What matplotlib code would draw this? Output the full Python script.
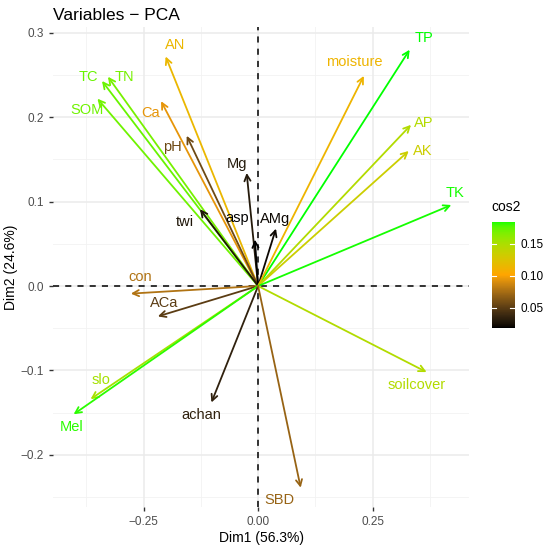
import numpy as np
import matplotlib
matplotlib.use("Agg")
import matplotlib.pyplot as plt
from matplotlib.colors import ListedColormap, Normalize, to_rgb
from matplotlib.ticker import FixedLocator, FuncFormatter

plt.rcParams['font.family'] = ['Liberation Sans', 'DejaVu Sans']

# variable coordinates on Dim1 / Dim2 and their cos2
variables = ['AN', 'TC', 'TN', 'SOM', 'Ca', 'pH', 'Mg', 'twi', 'asp', 'AMg',
             'TP', 'moisture', 'AP', 'AK', 'TK', 'con', 'ACa', 'slo', 'Mel',
             'achan', 'soilcover', 'SBD']
dim1 = [-0.202, -0.341, -0.328, -0.351, -0.212, -0.156, -0.025, -0.127, -0.007, 0.039,
        0.331, 0.231, 0.334, 0.329, 0.422, -0.278, -0.219, -0.366, -0.403,
        -0.102, 0.368, 0.093]
dim2 = [0.272, 0.243, 0.248, 0.222, 0.219, 0.178, 0.134, 0.091, 0.055, 0.068,
        0.280, 0.249, 0.191, 0.160, 0.096, -0.009, -0.036, -0.134, -0.152,
        -0.138, -0.102, -0.239]
cos2 = [0.115, 0.172, 0.168, 0.170, 0.094, 0.057, 0.030, 0.028, 0.019, 0.022,
        0.184, 0.113, 0.146, 0.134, 0.183, 0.078, 0.050, 0.152, 0.182,
        0.035, 0.146, 0.070]

# label offsets from the arrow tip, in pixels (right, up)
label_offsets = {
    'AN': (10, 11), 'TC': (-14, 4), 'TN': (16, 0), 'SOM': (-10, -11),
    'Ca': (-10, -12), 'pH': (-14, -11), 'Mg': (-10, 9), 'twi': (-15, -13),
    'asp': (-18, 22), 'AMg': (-1, 10), 'TP': (14, 12), 'moisture': (-10, 14),
    'AP': (13, 2), 'AK': (14, 0), 'TK': (4, 12), 'con': (9, 17),
    'ACa': (6, 13), 'slo': (10, 19), 'Mel': (-2, -13), 'achan': (-10, -13),
    'soilcover': (-10, -13), 'SBD': (-21, -12),
}


# gradient interpolated in Lab space, like ggplot's scale_colour_gradientn
def srgb_to_lab(rgb):
    c = np.array(rgb, dtype=float)
    lin = np.where(c <= 0.04045, c / 12.92, ((c + 0.055) / 1.055) ** 2.4)
    m = np.array([[0.4124, 0.3576, 0.1805],
                  [0.2126, 0.7152, 0.0722],
                  [0.0193, 0.1192, 0.9505]])
    xyz = m @ lin / np.array([0.95047, 1.0, 1.08883])
    f = np.where(xyz > 0.008856, np.cbrt(xyz), 7.787 * xyz + 16 / 116)
    return np.array([116 * f[1] - 16, 500 * (f[0] - f[1]), 200 * (f[1] - f[2])])


def lab_to_srgb(lab):
    fy = (lab[0] + 16) / 116
    fx = fy + lab[1] / 500
    fz = fy - lab[2] / 200
    f = np.array([fx, fy, fz])
    xyz = np.where(f > 0.2069, f ** 3, (f - 16 / 116) / 7.787) * np.array([0.95047, 1.0, 1.08883])
    m = np.array([[3.2406, -1.5372, -0.4986],
                  [-0.9689, 1.8758, 0.0415],
                  [0.0557, -0.2040, 1.0570]])
    lin = m @ xyz
    c = np.where(lin <= 0.0031308, 12.92 * lin, 1.055 * np.abs(lin) ** (1 / 2.4) - 0.055)
    return np.clip(c, 0, 1)


stops = [srgb_to_lab(to_rgb(c)) for c in ['black', '#FFA500', '#00FF00']]
grad = []
for t in np.linspace(0, 1, 256):
    if t <= 0.5:
        lab = stops[0] + (stops[1] - stops[0]) * (t / 0.5)
    else:
        lab = stops[1] + (stops[2] - stops[1]) * ((t - 0.5) / 0.5)
    grad.append(lab_to_srgb(lab))
cmap = ListedColormap(grad)
norm = Normalize(vmin=min(cos2), vmax=max(cos2))

fig = plt.figure(figsize=(5.5, 5.5), dpi=100)
ax = fig.add_axes([0.0964, 0.078, 0.853 - 0.0964, 0.951 - 0.078])

ax.set_xlim(-0.448, 0.461)
ax.set_ylim(-0.262, 0.307)

# ggplot-like minimal grid
for v in [-0.375, -0.125, 0.125, 0.375]:
    ax.axvline(v, color='#F2F2F2', lw=0.6, zorder=0)
for v in [-0.25, -0.15, -0.05, 0.05, 0.15, 0.25]:
    ax.axhline(v, color='#F2F2F2', lw=0.6, zorder=0)
for v in [-0.25, 0, 0.25]:
    ax.axvline(v, color='#EBEBEB', lw=1.1, zorder=0)
for v in [-0.2, -0.1, 0, 0.1, 0.2, 0.3]:
    ax.axhline(v, color='#EBEBEB', lw=1.1, zorder=0)

ax.axhline(0, color='black', lw=1.1, ls=(0, (4, 4)), zorder=1)
ax.axvline(0, color='black', lw=1.1, ls=(0, (4, 4)), zorder=1)

for name, x, y, c in zip(variables, dim1, dim2, cos2):
    col = cmap(norm(c))
    ax.annotate('', xy=(x, y), xytext=(0, 0),
                arrowprops=dict(arrowstyle='->', color=col, lw=1.3,
                                shrinkA=0, shrinkB=0, mutation_scale=11),
                zorder=3)
    dx, dy = label_offsets[name]
    ax.annotate(name, xy=(x, y), xytext=(dx, dy), textcoords='offset pixels',
                ha='center', va='center', color=col, fontsize=10.5, zorder=4)

for s in ax.spines.values():
    s.set_visible(False)

ax.xaxis.set_major_locator(FixedLocator([-0.25, 0, 0.25]))
ax.yaxis.set_major_locator(FixedLocator([-0.2, -0.1, 0, 0.1, 0.2, 0.3]))
ax.xaxis.set_major_formatter(FuncFormatter(lambda v, p: f'{v:.2f}'.replace('-', '\u2212')))
ax.yaxis.set_major_formatter(FuncFormatter(lambda v, p: f'{v:.1f}'.replace('-', '\u2212')))
ax.tick_params(axis='both', colors='#333333', labelcolor='#4D4D4D', labelsize=8.5,
               length=3, width=1)

ax.set_xlabel('Dim1 (56.3%)', fontsize=10, labelpad=2)
ax.set_ylabel('Dim2 (24.6%)', fontsize=10)
ax.yaxis.set_label_coords(-0.084, 0.5)
ax.set_title('Variables \u2212 PCA', loc='left', fontsize=12.5, pad=5)

# colourbar
cax = fig.add_axes([0.894, 0.404, 0.042, 0.193])
cb = fig.colorbar(plt.cm.ScalarMappable(norm=norm, cmap=cmap), cax=cax)
cb.outline.set_visible(False)
cb.set_ticks([0.05, 0.10, 0.15])
cb.set_ticklabels(['0.05', '0.10', '0.15'])
cax.tick_params(length=0, labelsize=8.5, labelcolor='black', pad=4)
for t in [0.05, 0.10, 0.15]:
    cax.plot([0, 0.2], [t, t], color='white', lw=0.8, transform=cax.get_yaxis_transform())
    cax.plot([0.8, 1.0], [t, t], color='white', lw=0.8, transform=cax.get_yaxis_transform())
fig.text(0.894, 0.624, 'cos2', fontsize=10, ha='left', va='center')

fig.savefig('out.png', dpi=100)
